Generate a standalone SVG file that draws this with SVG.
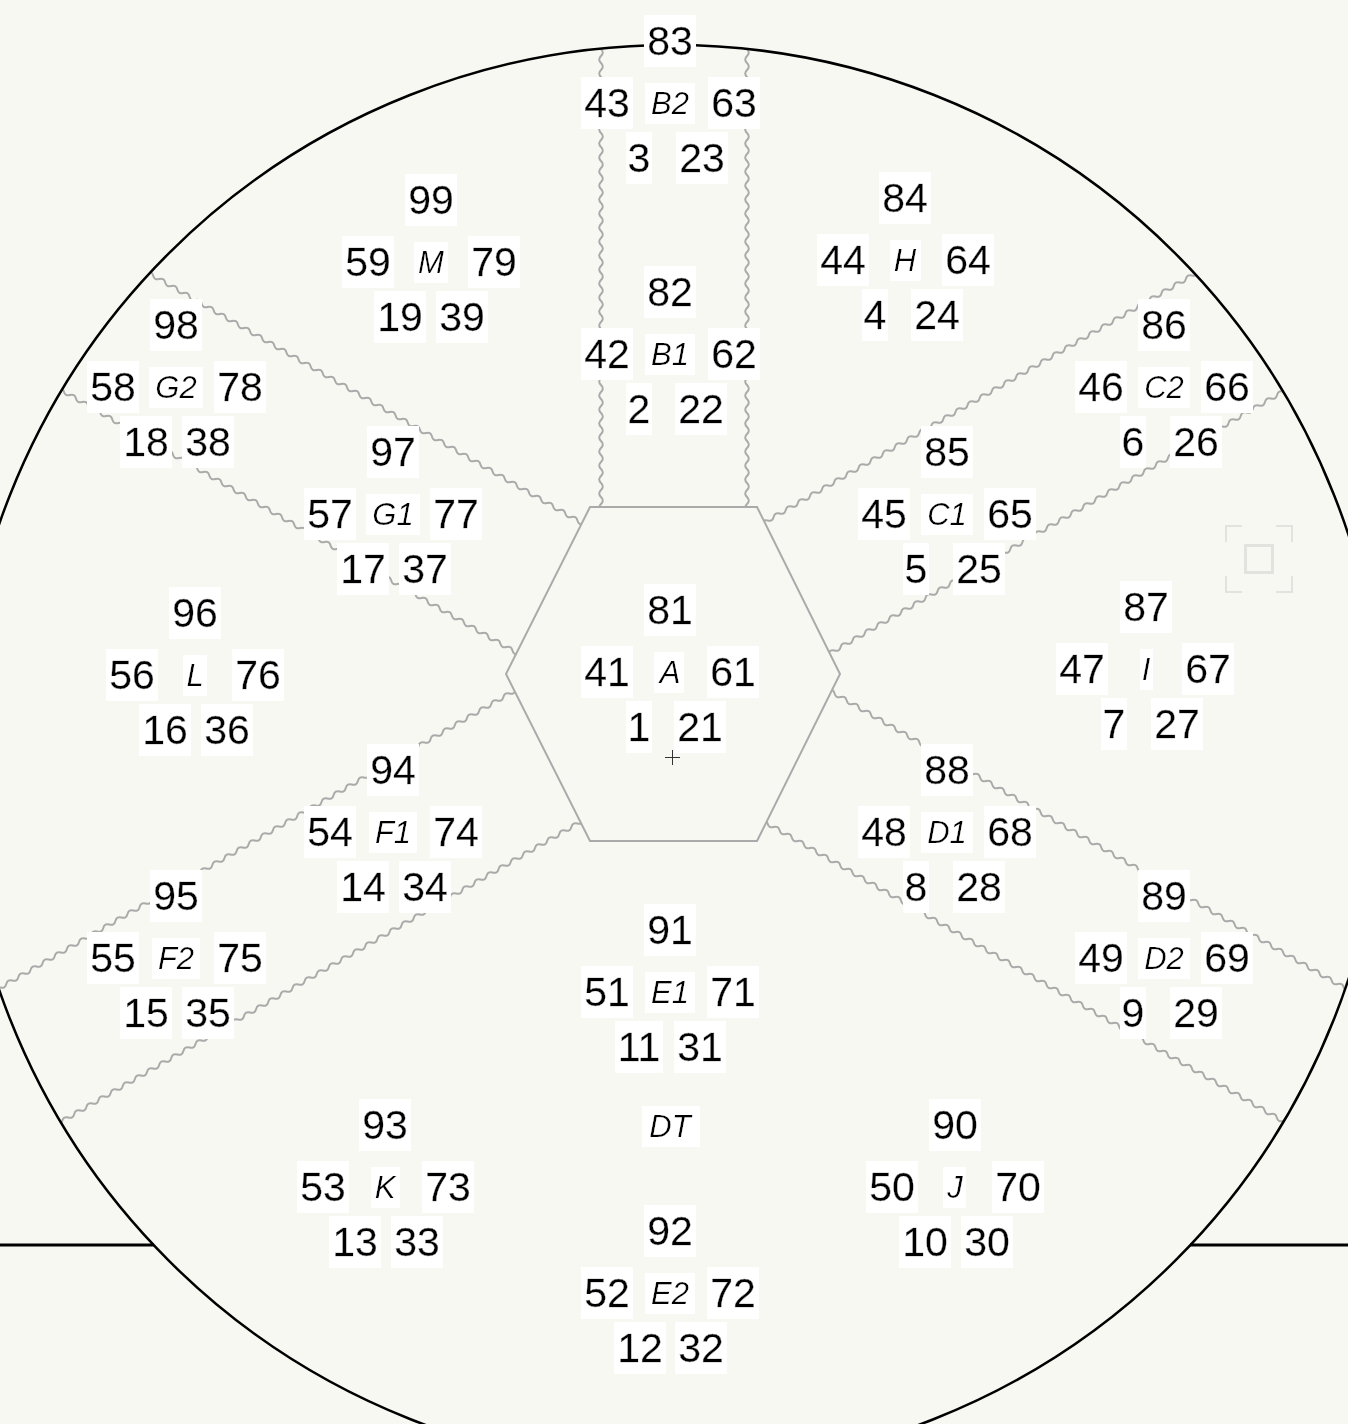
<svg xmlns="http://www.w3.org/2000/svg" xmlns:xlink="http://www.w3.org/1999/xlink" width="1348" height="1424" viewBox="0 0 1348 1424">
<style>
.n{font-family:"Liberation Sans",Arial,sans-serif;font-size:41px;text-anchor:middle;fill:#000;stroke:#000;stroke-width:0.3;filter:url(#bg)}
.l{font-family:"Liberation Sans",Arial,sans-serif;font-size:31px;font-style:italic;text-anchor:middle;fill:#000;filter:url(#bgl)}
.wave{fill:none;stroke:#aaaaaa;stroke-width:2}
</style>
<defs>
<filter id="bg" x="-0.05" y="-0.06" width="1.1" height="1.12"><feFlood flood-color="#ffffff"/><feMerge><feMergeNode/><feMergeNode in="SourceGraphic"/></feMerge></filter>
<filter id="bgl" x="-0.15" y="-0.08" width="1.3" height="1.16"><feFlood flood-color="#ffffff"/><feMerge><feMergeNode/><feMergeNode in="SourceGraphic"/></feMerge></filter>
<clipPath id="cc"><circle cx="672" cy="757" r="711"/></clipPath>
<path id="w" d="M0,0q3.5,-3.6 7,0t7,0t7,0t7,0t7,0t7,0t7,0t7,0t7,0t7,0t7,0t7,0t7,0t7,0t7,0t7,0t7,0t7,0t7,0t7,0t7,0t7,0t7,0t7,0t7,0t7,0t7,0t7,0t7,0t7,0t7,0t7,0t7,0t7,0t7,0t7,0t7,0t7,0t7,0t7,0t7,0t7,0t7,0t7,0t7,0t7,0t7,0t7,0t7,0t7,0t7,0t7,0t7,0t7,0t7,0t7,0t7,0t7,0t7,0t7,0t7,0t7,0t7,0t7,0t7,0t7,0t7,0t7,0t7,0t7,0t7,0t7,0t7,0t7,0t7,0t7,0t7,0t7,0t7,0t7,0t7,0t7,0t7,0t7,0t7,0t7,0t7,0t7,0t7,0t7,0t7,0t7,0t7,0t7,0t7,0t7,0t7,0t7,0"/>
</defs>
<rect x="0" y="0" width="1348" height="1424" fill="#f8f8f3"/>

<g id="connectors">
<g clip-path="url(#cc)">
<use xlink:href="#w" class="wave" transform="translate(601,567) rotate(-90)"/>
<use xlink:href="#w" class="wave" transform="translate(747,567) rotate(-90)"/>
<use xlink:href="#w" class="wave" transform="translate(632,552) rotate(-150)"/>
<use xlink:href="#w" class="wave" transform="translate(567,682) rotate(-150)"/>
<use xlink:href="#w" class="wave" transform="translate(713,552) rotate(-30)"/>
<use xlink:href="#w" class="wave" transform="translate(780,682) rotate(-30)"/>
<use xlink:href="#w" class="wave" transform="translate(564,662) rotate(150)"/>
<use xlink:href="#w" class="wave" transform="translate(632,792) rotate(150)"/>
<use xlink:href="#w" class="wave" transform="translate(780,662) rotate(30)"/>
<use xlink:href="#w" class="wave" transform="translate(713,792) rotate(30)"/>
</g>
</g>

<polygon id="hexagon" points="590,507 757,507 840,674 757,841 590,841 506,674" fill="#f8f8f3" stroke="#aaaaaa" stroke-width="2"/>
<circle id="outer" cx="672" cy="757" r="712" fill="none" stroke="#000" stroke-width="2.5"/>
<path d="M0,1245H154M1190,1245H1348" stroke="#000" stroke-width="3" fill="none"/>
<path d="M665,757.5h15M672.5,750v15" stroke="#333" stroke-width="1" fill="none"/>

<g id="icon" fill="none" stroke="#e2e2de" stroke-width="2">
<path d="M1226,542V526H1242M1276,526H1292V542M1292,576V592H1276M1242,592H1226V576"/>
<rect x="1245.5" y="545.5" width="27" height="27" stroke-width="3"/>
</g>

<g id="node-M" transform="translate(431,214)"><text class="n" x="0" y="0">99</text><text class="n" x="-63" y="62">59</text><text class="l" x="0" y="59">M</text><text class="n" x="63" y="62">79</text><text class="n" x="-31" y="117">19</text><text class="n" x="31" y="117">39</text></g>
<g id="node-B2" transform="translate(670,55)"><text class="n" x="0" y="0">83</text><text class="n" x="-63" y="62">43</text><text class="l" x="0" y="59">B2</text><text class="n" x="64" y="62">63</text><text class="n" x="-31" y="117">3</text><text class="n" x="32" y="117">23</text></g>
<g id="node-H" transform="translate(905,212)"><text class="n" x="0" y="0">84</text><text class="n" x="-62" y="62">44</text><text class="l" x="0" y="59">H</text><text class="n" x="63" y="62">64</text><text class="n" x="-30" y="117">4</text><text class="n" x="32" y="117">24</text></g>
<g id="node-B1" transform="translate(670,306)"><text class="n" x="0" y="0">82</text><text class="n" x="-63" y="62">42</text><text class="l" x="0" y="59">B1</text><text class="n" x="64" y="62">62</text><text class="n" x="-31" y="117">2</text><text class="n" x="31" y="117">22</text></g>
<g id="node-G2" transform="translate(176,339)"><text class="n" x="0" y="0">98</text><text class="n" x="-63" y="62">58</text><text class="l" x="0" y="59">G2</text><text class="n" x="64" y="62">78</text><text class="n" x="-30" y="117">18</text><text class="n" x="32" y="117">38</text></g>
<g id="node-C2" transform="translate(1164,339)"><text class="n" x="0" y="0">86</text><text class="n" x="-63" y="62">46</text><text class="l" x="0" y="59">C2</text><text class="n" x="63" y="62">66</text><text class="n" x="-31" y="117">6</text><text class="n" x="32" y="117">26</text></g>
<g id="node-G1" transform="translate(393,466)"><text class="n" x="0" y="0">97</text><text class="n" x="-63" y="62">57</text><text class="l" x="0" y="59">G1</text><text class="n" x="63" y="62">77</text><text class="n" x="-30" y="117">17</text><text class="n" x="32" y="117">37</text></g>
<g id="node-C1" transform="translate(947,466)"><text class="n" x="0" y="0">85</text><text class="n" x="-63" y="62">45</text><text class="l" x="0" y="59">C1</text><text class="n" x="63" y="62">65</text><text class="n" x="-31" y="117">5</text><text class="n" x="32" y="117">25</text></g>
<g id="node-L" transform="translate(195,627)"><text class="n" x="0" y="0">96</text><text class="n" x="-63" y="62">56</text><text class="l" x="0" y="59">L</text><text class="n" x="63" y="62">76</text><text class="n" x="-30" y="117">16</text><text class="n" x="32" y="117">36</text></g>
<g id="node-A" transform="translate(670,624)"><text class="n" x="0" y="0">81</text><text class="n" x="-63" y="62">41</text><text class="l" x="0" y="59">A</text><text class="n" x="63" y="62">61</text><text class="n" x="-31" y="117">1</text><text class="n" x="30" y="117">21</text></g>
<g id="node-I" transform="translate(1146,621)"><text class="n" x="0" y="0">87</text><text class="n" x="-64" y="62">47</text><text class="l" x="0" y="59">I</text><text class="n" x="62" y="62">67</text><text class="n" x="-32" y="117">7</text><text class="n" x="31" y="117">27</text></g>
<g id="node-F1" transform="translate(393,784)"><text class="n" x="0" y="0">94</text><text class="n" x="-63" y="62">54</text><text class="l" x="0" y="59">F1</text><text class="n" x="63" y="62">74</text><text class="n" x="-30" y="117">14</text><text class="n" x="32" y="117">34</text></g>
<g id="node-D1" transform="translate(947,784)"><text class="n" x="0" y="0">88</text><text class="n" x="-63" y="62">48</text><text class="l" x="0" y="59">D1</text><text class="n" x="63" y="62">68</text><text class="n" x="-31" y="117">8</text><text class="n" x="32" y="117">28</text></g>
<g id="node-F2" transform="translate(176,910)"><text class="n" x="0" y="0">95</text><text class="n" x="-63" y="62">55</text><text class="l" x="0" y="59">F2</text><text class="n" x="64" y="62">75</text><text class="n" x="-30" y="117">15</text><text class="n" x="32" y="117">35</text></g>
<g id="node-D2" transform="translate(1164,910)"><text class="n" x="0" y="0">89</text><text class="n" x="-63" y="62">49</text><text class="l" x="0" y="59">D2</text><text class="n" x="63" y="62">69</text><text class="n" x="-31" y="117">9</text><text class="n" x="32" y="117">29</text></g>
<g id="node-E1" transform="translate(670,944)"><text class="n" x="0" y="0">91</text><text class="n" x="-63" y="62">51</text><text class="l" x="0" y="59">E1</text><text class="n" x="63" y="62">71</text><text class="n" x="-31" y="117">11</text><text class="n" x="30" y="117">31</text></g>
<g id="node-DT" transform="translate(670,1137)"><text class="l" x="0" y="0">DT</text></g>
<g id="node-K" transform="translate(385,1139)"><text class="n" x="0" y="0">93</text><text class="n" x="-62" y="62">53</text><text class="l" x="0" y="59">K</text><text class="n" x="63" y="62">73</text><text class="n" x="-30" y="117">13</text><text class="n" x="32" y="117">33</text></g>
<g id="node-J" transform="translate(955,1139)"><text class="n" x="0" y="0">90</text><text class="n" x="-63" y="62">50</text><text class="l" x="0" y="59">J</text><text class="n" x="63" y="62">70</text><text class="n" x="-30" y="117">10</text><text class="n" x="32" y="117">30</text></g>
<g id="node-E2" transform="translate(670,1245)"><text class="n" x="0" y="0">92</text><text class="n" x="-63" y="62">52</text><text class="l" x="0" y="59">E2</text><text class="n" x="63" y="62">72</text><text class="n" x="-30" y="117">12</text><text class="n" x="31" y="117">32</text></g>
</svg>
